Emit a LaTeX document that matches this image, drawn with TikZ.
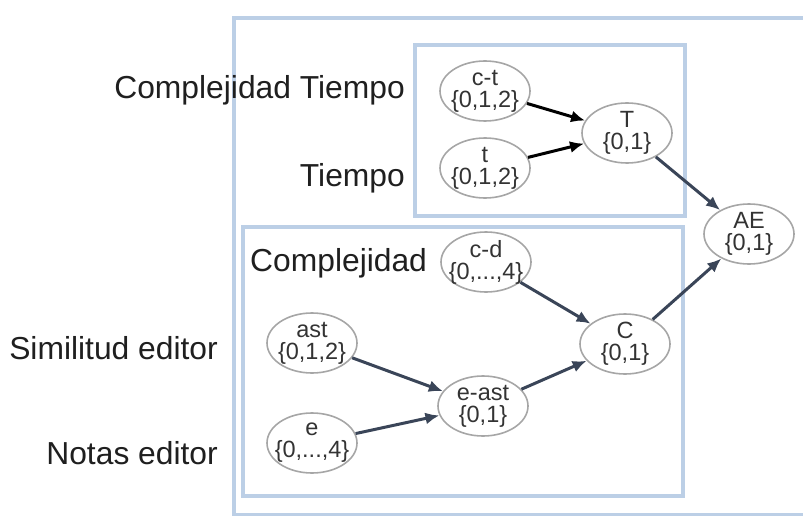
\documentclass[tikz,border=0pt]{standalone}
\usepackage{fontspec}
\setmainfont{Liberation Sans}
\usetikzlibrary{shapes.geometric,arrows.meta}
\definecolor{boxblue}{HTML}{BCCFE6}
\definecolor{nodegray}{HTML}{A6A6A6}
\definecolor{arrowdark}{HTML}{3A4558}
\tikzset{
    var/.style={ellipse, draw=nodegray, line width=1.6pt, minimum width=90pt, minimum height=60pt,
        inner xsep=-12pt, inner ysep=-3pt, align=center, text=black!80, font=\fontsize{23.5}{22}\selectfont},
    lbl/.style={font=\fontsize{31.8}{34}\selectfont, text=black!88, inner sep=0pt},
    frame/.style={draw=boxblue, line width=3.5pt},
    link/.style={-{Latex[length=14pt,width=12pt]}, line width=3pt, draw=arrowdark},
    blacklink/.style={link, draw=black}
}
\begin{document}
\begin{tikzpicture}[x=1pt, y=-1pt]
    \useasboundingbox (0, 0) rectangle (803, 516);

    % frames
    \draw[frame] (803, 18) -- (234, 18) -- (234, 515) -- (803, 515);
    \draw[frame] (415, 45) rectangle (685, 216);
    \draw[frame] (243, 227) rectangle (683, 496);

    % labels
    \node[lbl, anchor=east] (lct) at (405, 90) {Complejidad Tiempo};
    \node[lbl, anchor=east] (lt) at (405, 178) {Tiempo};
    \node[lbl, anchor=west] (lcd) at (250, 263) {Complejidad};
    \node[lbl, anchor=east] (last) at (218, 348) {Similitud editor};
    \node[lbl, anchor=east] (le) at (218, 453) {Notas editor};

    % variables
    \node[var] (ct) at (485, 91) {c-t\\\{0,1,2\}};
    \node[var] (t) at (485, 168) {t\\\{0,1,2\}};
    \node[var] (T) at (627, 133) {T\\\{0,1\}};
    \node[var] (AE) at (749, 234) {AE\\\{0,1\}};
    \node[var] (cd) at (486, 262) {c-d\\\{0,...,4\}};
    \node[var] (C) at (625, 344) {C\\\{0,1\}};
    \node[var] (ast) at (312, 343) {ast\\\{0,1,2\}};
    \node[var] (east) at (483, 406) {e-ast\\\{0,1\}};
    \node[var] (e) at (312, 443) {e\\\{0,...,4\}};

    % links
    \draw[blacklink] (ct) -- (T);
    \draw[blacklink] (t) -- (T);
    \draw[link] (T) -- (AE);
    \draw[link] (cd) -- (C);
    \draw[link] (ast) -- (east);
    \draw[link] (e) -- (east);
    \draw[link] (east) -- (C);
    \draw[link] (C) -- (AE);
\end{tikzpicture}
\end{document}
